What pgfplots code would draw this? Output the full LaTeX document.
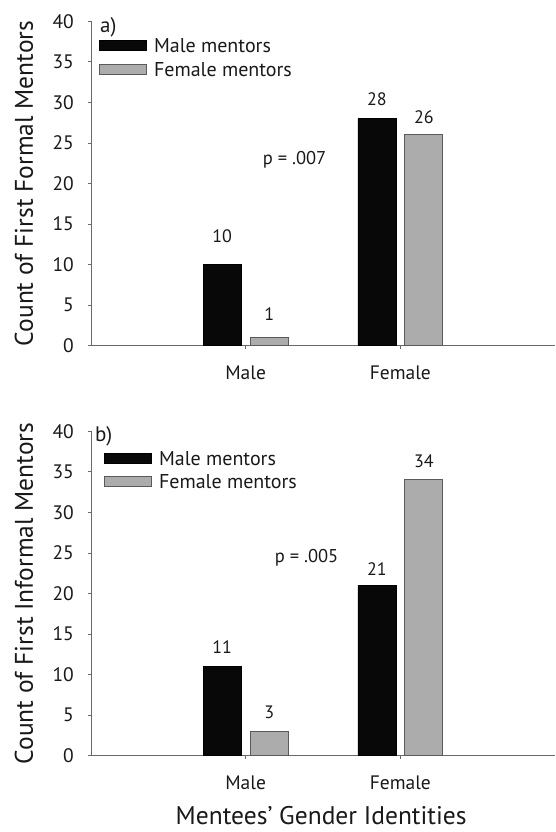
\documentclass[border=0pt]{standalone}
\usepackage{fontspec}
\setmainfont{PT Sans}
\usepackage{pgfplots}
\usepackage{pgfplotstable}
\pgfplotsset{compat=1.18}

\pgfplotstableread{
x y off
1 10 28
2 28 19.5
}\topmale
\pgfplotstableread{
x y off
1 1 23
2 26 17.5
}\topfemale
\pgfplotstableread{
x y off
1 11 19.5
2 21 16.5
}\botmale
\pgfplotstableread{
x y off
1 3 19.5
2 34 19
}\botfemale

\definecolor{barblack}{RGB}{8,8,8}
\definecolor{bargrey}{RGB}{172,172,172}
\definecolor{bargreyedge}{RGB}{90,90,90}
\definecolor{axisgrey}{RGB}{105,105,105}
\definecolor{txt}{RGB}{25,25,25}

\pgfplotsset{
  /pgf/number format/assume math mode=true,
  mystyle/.style={
    scale only axis, width=464pt, height=324.5pt,
    xmin=0, xmax=3, ymin=0, ymax=40, clip=false,
    axis lines*=left,
    axis line style={axisgrey, line width=0.9pt},
    ytick={0,5,...,40}, xtick={1,2}, xticklabels={Male,Female},
    tick align=outside, major tick length=3pt,
    tick style={axisgrey, line width=0.7pt},
    yticklabel style={font=\fontsize{19.5}{22}\selectfont, text=txt, inner sep=0pt, anchor=east, xshift=-14pt},
    xticklabel style={font=\fontsize{19.5}{22}\selectfont, text=txt, inner sep=0pt, anchor=north, yshift=-17pt},
    every axis y label/.style={at={(axis description cs:-0.1444,0.5)}, rotate=90, anchor=center, font=\fontsize{25.5}{30}\selectfont, text=txt},
    every axis x label/.style={at={(axis description cs:0.496,-0.1855)}, anchor=center, inner sep=1pt, font=\fontsize{25.5}{30}\selectfont, text=txt},
    legend image code/.code={\draw[##1] (0pt,-4pt) rectangle (47pt,6pt);},
    legend cell align=left,
    legend style={font=\fontsize{20}{24}\selectfont, text=txt, draw=none, fill=none, inner sep=0pt, row sep=5pt, column sep=6pt, nodes={inner sep=1.5pt}},
  },
  malebar/.style={ybar, bar width=38pt, bar shift=-23.5pt, fill=barblack, draw=black, line width=0.6pt},
  femalebar/.style={ybar, bar width=38pt, bar shift=23.5pt, fill=bargrey, draw=bargreyedge, line width=0.8pt},
  barlabels/.style={nodes near coords, visualization depends on={\thisrow{off}\as\myoff},
    every node near coord/.style={anchor=center, xshift=#1, yshift=\myoff pt, font=\fontsize{18}{20}\selectfont, text=txt}},
}

\begin{document}
\begin{tikzpicture}
\begin{axis}[mystyle, ylabel={Count of First Formal Mentors},
  legend style={at={(axis description cs:0.0162,0.951)}, anchor=north west}]
\addplot[malebar, barlabels=-23.5pt] table[x=x,y=y] {\topmale};
\addlegendentry{Male mentors}
\addplot[femalebar, barlabels=23.5pt] table[x=x,y=y] {\topfemale};
\addlegendentry{Female mentors}
\node[font=\fontsize{21}{24}\selectfont, text=txt, anchor=west, inner sep=0pt] at (axis description cs:0.0194,0.982) {a)};
\node[font=\fontsize{18.5}{21}\selectfont, text=txt] at (axis cs:1.316,22.9) {p = .007};
\end{axis}
\begin{axis}[mystyle, at={(0pt,-410pt)}, anchor=south west,
  ylabel={Count of First Informal Mentors}, xlabel={Mentees' Gender Identities},
  legend style={at={(axis description cs:0.027,0.944)}, anchor=north west}]
\addplot[malebar, barlabels=-23.5pt] table[x=x,y=y] {\botmale};
\addlegendentry{Male mentors}
\addplot[femalebar, barlabels=23.5pt] table[x=x,y=y] {\botfemale};
\addlegendentry{Female mentors}
\node[font=\fontsize{21}{24}\selectfont, text=txt, anchor=west, inner sep=0pt] at (axis description cs:0.0086,0.985) {b)};
\node[font=\fontsize{18.5}{21}\selectfont, text=txt] at (axis cs:1.394,24.4) {p = .005};
\end{axis}
\pgfresetboundingbox
\useasboundingbox (-91pt,345.7pt) rectangle (464pt,-486.3pt);
\end{tikzpicture}
\end{document}
